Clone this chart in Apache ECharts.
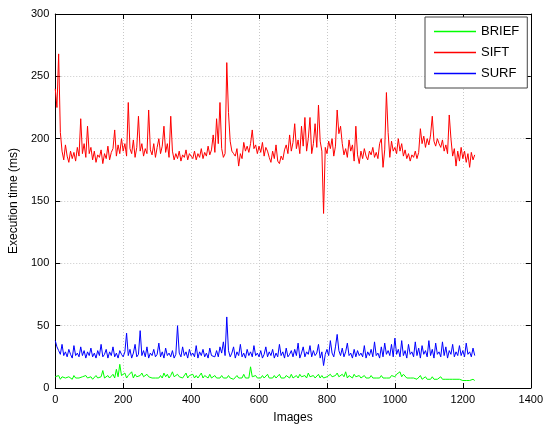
<!DOCTYPE html>
<html>
<head>
<meta charset="utf-8">
<script src="https://cdn.jsdelivr.net/npm/echarts@6/dist/echarts.min.js"></script>
<style>
  html, body { margin: 0; padding: 0; background: #fff; }
  #chart { width: 546px; height: 429px; }
</style>
</head>
<body>
<div id="chart"></div>
<script>
// execution time (ms), one reading every 5 images
const imageStep = 5
const xTicks = [0, 200, 400, 600, 800, 1000, 1200, 1400]
const yTicks = [0, 50, 100, 150, 200, 250, 300]
const seriesNames = ["BRIEF", "SIFT", "SURF"]

const sift = [
  240,225,268,205,190,183,195,186,181,190,184,189,182,193,186,216,188,196,185,210,
  188,193,183,190,181,187,185,191,180,188,184,194,183,189,192,207,186,195,188,200,
  190,196,186,229,192,188,199,185,193,218,190,196,186,192,188,223,191,187,196,185,
  193,200,188,194,210,189,196,185,218,190,183,188,184,190,182,187,185,191,183,188,
  186,184,190,183,188,185,192,184,189,186,194,187,191,203,189,216,196,229,192,185,
  188,261,221,198,190,188,186,192,178,188,184,197,190,194,189,196,207,192,195,188,
  194,189,197,186,193,190,185,181,190,184,195,182,180,186,183,191,195,188,203,190,
  197,212,192,199,188,210,194,217,190,200,217,188,196,212,193,227,198,190,140,193,
  188,198,192,200,186,194,223,204,210,196,187,192,185,199,190,195,182,210,187,180,
  190,184,192,186,183,190,187,193,185,189,184,196,200,177,191,237,205,185,198,190,
  193,188,200,190,196,186,191,184,188,182,187,185,190,184,189,208,196,202,193,200,
  195,203,218,198,194,200,196,193,199,190,195,188,219,200,186,192,178,190,182,193,
  184,190,181,188,177,189,183,187
]

const surf = [
  38,33,30,27,35,26,29,25,31,27,24,34,26,28,25,33,26,30,24,29,
  26,32,25,28,24,30,26,35,25,27,31,24,29,26,33,25,28,24,30,27,
  25,29,44,26,31,24,28,35,25,27,46,26,30,25,33,24,28,26,31,25,
  27,36,25,29,24,32,26,28,25,30,24,27,50,28,25,33,26,29,24,31,
  26,28,25,34,24,29,26,31,25,28,24,32,26,27,25,30,25,33,28,37,
  26,57,30,25,28,33,24,29,26,35,25,28,24,31,26,29,25,34,26,28,
  25,30,24,27,33,25,29,26,31,24,28,25,35,26,29,24,32,25,27,30,
  25,31,26,36,24,28,33,25,29,27,34,25,30,26,28,35,24,29,18,27,
  31,26,38,28,25,33,43,30,26,32,25,29,36,26,28,24,31,25,30,26,
  28,25,34,24,29,26,31,25,37,26,28,24,33,25,36,27,30,26,35,25,
  40,27,31,25,38,26,30,24,35,27,29,25,37,26,32,24,34,27,30,25,
  38,26,31,24,36,27,29,25,37,26,33,24,30,27,35,25,29,26,34,26,
  30,25,36,27,29,25,32,26
]

const brief = [
  9,8,10,7,9,8,8,7,9,8,7,10,8,9,8,7,9,8,10,8,
  8,9,7,8,10,8,7,9,14,8,7,10,8,9,11,8,15,9,19,10,
  9,12,8,10,9,13,8,11,9,8,10,12,9,8,11,9,10,8,9,8,
  9,8,10,8,12,9,11,8,10,13,9,8,11,9,10,8,9,12,8,10,
  9,11,8,10,8,9,12,8,10,9,8,11,8,9,10,8,9,8,10,8,
  9,8,10,8,9,7,8,10,8,9,8,11,8,9,8,17,9,8,10,8,
  9,8,10,8,9,11,8,9,8,10,8,9,11,8,9,8,10,9,8,11,
  8,9,10,8,11,9,8,10,8,12,9,8,10,8,9,11,8,10,8,7,
  9,8,11,9,8,10,12,9,8,11,9,13,8,10,9,8,11,9,8,10,
  8,9,10,8,9,8,10,8,9,8,9,8,10,8,9,8,9,8,10,9,
  9,11,10,13,9,11,10,8,9,8,7,8,9,7,8,10,7,8,9,7,
  8,7,9,7,8,7,7,9,7,8,7,6,7,8,7,6,7,6,7,6,
  6,7,6,7,6,6,7,6
]

const toPoints = (vals) => vals.map((v, i) => [i * imageStep, v])

const font = "'Liberation Sans', Arial, sans-serif"
const dotted = { show: true, lineStyle: { color: "#c8c8c8", type: [1, 2], width: 1 } }
const plain = (v) => String(v)

const mainX = {
    type: "value", min: xTicks[0], max: xTicks[xTicks.length - 1], interval: 200,
    name: "Images", nameLocation: "middle", nameGap: 24,
    nameTextStyle: { fontFamily: font, fontSize: 12, color: "#000" },
    axisLine: { onZero: false, lineStyle: { color: "#000", width: 1 } },
    axisTick: { inside: true, length: 5, lineStyle: { color: "#000" } },
    axisLabel: { fontFamily: font, fontSize: 11, color: "#000", margin: 6, formatter: plain },
    splitLine: dotted
}
const mainY = {
    type: "value", min: yTicks[0], max: yTicks[yTicks.length - 1], interval: 50,
    name: "Execution time (ms)", nameLocation: "middle", nameGap: 34,
    nameTextStyle: { fontFamily: font, fontSize: 12, color: "#000" },
    axisLine: { onZero: false, lineStyle: { color: "#000", width: 1 } },
    axisTick: { inside: true, length: 5, lineStyle: { color: "#000" } },
    axisLabel: { fontFamily: font, fontSize: 11, color: "#000", margin: 6, formatter: plain },
    splitLine: dotted
}
// box edges (top / right) with inside ticks, no labels
const boxX = {
    type: "value", position: "top", min: 0, max: 1400, interval: 200,
    axisLine: { onZero: false, lineStyle: { color: "#000", width: 1 } },
    axisTick: { inside: true, length: 5, lineStyle: { color: "#000" } },
    axisLabel: { show: false }, splitLine: { show: false }
}
const boxY = {
    type: "value", position: "right", min: 0, max: 300, interval: 50,
    axisLine: { onZero: false, lineStyle: { color: "#000", width: 1 } },
    axisTick: { inside: true, length: 5, lineStyle: { color: "#000" } },
    axisLabel: { show: false }, splitLine: { show: false }
}

const colors = ["#00ff00", "#ff0000", "#0000ff"]
const values = [brief, sift, surf]

const myChart = echarts.init(document.getElementById("chart"), null, { renderer: "canvas" })
myChart.setOption({
    animation: false,
    backgroundColor: "#fff",
    grid: { left: 55, right: 15, top: 14, bottom: 41 },
    xAxis: [mainX, boxX],
    yAxis: [mainY, boxY],
    legend: {
        orient: "vertical", left: 425, top: 17,
        data: seriesNames,
        icon: "rect", itemWidth: 42, itemHeight: 1.5, itemGap: 8,
        backgroundColor: "#fff", borderColor: "#444", borderWidth: 1,
        padding: [8, 8, 8, 9],
        textStyle: { fontFamily: font, fontSize: 13, color: "#000" }
    },
    series: seriesNames.map((name, k) => ({
        name: name, type: "line",
        data: toPoints(values[k]),
        symbol: "none", showSymbol: false,
        lineStyle: { color: colors[k], width: 1 },
        itemStyle: { color: colors[k] }
    }))
})
</script>
</body>
</html>
